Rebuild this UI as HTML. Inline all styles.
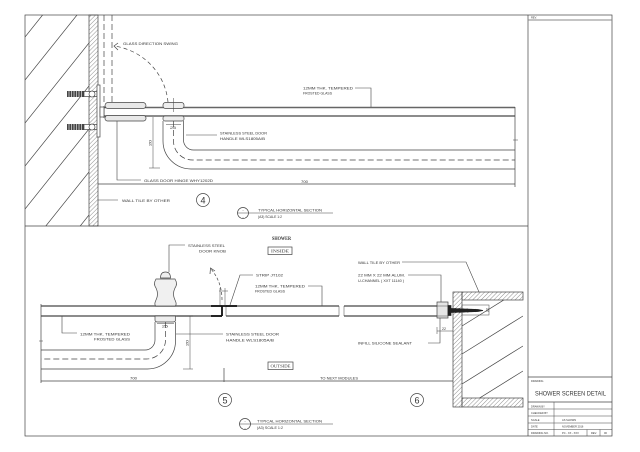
<!DOCTYPE html>
<html><head><meta charset="utf-8"><style>
html,body{margin:0;padding:0;background:#fff;}
svg{display:block;}
text{font-family:"Liberation Sans",sans-serif;fill:#333;}
.s{font-family:"Liberation Serif",serif;}
</style></head><body>
<svg width="640" height="452" viewBox="0 0 640 452" xmlns="http://www.w3.org/2000/svg">
<defs>
<pattern id="h" width="3" height="3" patternUnits="userSpaceOnUse" patternTransform="rotate(45)">
<line x1="0" y1="0" x2="0" y2="3" stroke="#444" stroke-width="0.6"/>
</pattern>
<clipPath id="w1"><rect x="25" y="15" width="64" height="211"/></clipPath>
<clipPath id="w2"><rect x="462" y="300" width="61" height="98"/></clipPath>
</defs>
<rect width="640" height="452" fill="#fff"/>

<g fill="none" stroke="#444" stroke-width="0.7">
<!-- borders -->
<rect x="25" y="15" width="587" height="421"/>
<line x1="528" y1="15" x2="528" y2="436"/>
<line x1="25" y1="226" x2="528" y2="226"/>

<!-- ===== TOP SECTION ===== -->
<g clip-path="url(#w1)">
<line x1="25" y1="37" x2="89" y2="-43"/>
<line x1="25" y1="80" x2="89" y2="0"/>
<line x1="25" y1="123" x2="89" y2="43"/>
<line x1="25" y1="166" x2="89" y2="86"/>
<line x1="25" y1="209" x2="89" y2="129"/>
<line x1="25" y1="252" x2="89" y2="172"/>
<line x1="25" y1="295" x2="89" y2="215"/>
</g>
<rect x="89" y="15" width="9" height="211" fill="url(#h)"/>

<!-- anchors -->
<rect x="84" y="91.5" width="13" height="5" fill="#fff"/>
<circle cx="92" cy="94" r="3" fill="#fff"/>
<rect x="84" y="124.5" width="13" height="5" fill="#fff"/>
<circle cx="92" cy="127" r="3" fill="#fff"/>
<rect x="97" y="85" width="3" height="52" fill="#fff"/>

<!-- swing -->
<line x1="104" y1="15" x2="104" y2="102" stroke-dasharray="6 3"/>
<line x1="112" y1="15" x2="112" y2="102" stroke-dasharray="6 3"/>
<path d="M168,102 C165,72 142,50 114,46" stroke-dasharray="4 3"/>
<path d="M118,43 L114,46 L118,50"/>

<!-- glass top -->
<line x1="104" y1="107.5" x2="515" y2="107.5" stroke="#666" stroke-width="1.6"/>
<line x1="104" y1="116" x2="515" y2="116" stroke="#666" stroke-width="1.6"/>
<line x1="104" y1="106" x2="104" y2="118"/>
<rect x="100" y="107" width="4" height="10" fill="#fff"/>

<!-- hinge -->
<rect x="105" y="102.5" width="41" height="6" rx="3" fill="#e8e8e8"/>
<rect x="105" y="115.5" width="41" height="5.5" rx="2.5" fill="#e8e8e8"/>

<!-- handle mount -->
<rect x="163" y="102.5" width="21" height="6" rx="2.5" fill="#eee"/>
<rect x="163" y="116" width="21" height="5" rx="2" fill="#eee"/>
<line x1="173.5" y1="98" x2="173.5" y2="112" stroke-width="0.5"/>

<!-- handle -->
<path d="M163,121 V141 A28,28 0 0 0 191,169 H515"/>
<path d="M183.5,121 V140 A10,10 0 0 0 193.5,150 H515"/>
<path d="M173.5,121 V141 A19,19 0 0 0 192.5,160 H515" stroke-dasharray="6 3"/>
<line x1="166" y1="124.5" x2="181" y2="124.5" stroke-width="0.5"/>

<!-- dims -->
<line x1="153" y1="117" x2="153" y2="168" stroke-width="0.5"/>
<line x1="149" y1="168" x2="160" y2="168" stroke-width="0.5"/>
<line x1="515" y1="107" x2="515" y2="187"/>
<line x1="513" y1="140" x2="518" y2="140" stroke-width="0.5"/>
<line x1="98" y1="184" x2="515" y2="184"/>

<!-- leaders -->
<polyline points="117,121 117,180 141,180" stroke-width="0.6"/>
<line x1="98" y1="200" x2="118" y2="200" stroke-width="0.6"/>
<polyline points="355,88 371,88 371,107" stroke-width="0.6"/>
<line x1="186" y1="135" x2="217" y2="135" stroke-width="0.6"/>

<circle cx="203" cy="200" r="6.5"/>
<circle cx="243" cy="213" r="5.5"/>
<line x1="237.5" y1="213" x2="333" y2="213" stroke-width="0.6"/>

<!-- ===== BOTTOM SECTION ===== -->
<rect x="268" y="247" width="24" height="7.5"/>
<rect x="268" y="362" width="25" height="7.5"/>

<!-- glass -->
<g stroke="#666" stroke-width="1.6">
<line x1="41" y1="306" x2="222" y2="306"/>
<line x1="41" y1="316" x2="222" y2="316"/>
<line x1="226" y1="306" x2="339" y2="306"/>
<line x1="226" y1="316" x2="339" y2="316"/>
<line x1="344" y1="306" x2="438" y2="306"/>
<line x1="344" y1="316" x2="438" y2="316"/>
</g>
<line x1="41" y1="304" x2="41" y2="383"/>
<line x1="39" y1="341" x2="43" y2="341" stroke-width="0.5"/>
<line x1="226" y1="306" x2="226" y2="316" stroke-width="0.5"/>
<line x1="339" y1="306" x2="339" y2="316" stroke-width="0.5"/>
<line x1="344" y1="306" x2="344" y2="316" stroke-width="0.5"/>

<!-- knob -->
<path d="M160.5,278 Q160.5,272 165.5,272 Q170.5,272 170.5,278 Z" fill="#eee"/>
<path d="M156,279 H175 Q178,284 175,288 Q172,294 175,300 Q177,304 175.5,306 H155.5 Q154,304 156,300 Q159,294 156,288 Q153,284 156,279 Z" fill="#f0f0f0"/>
<path d="M155,316 H175.5 V320 Q175.5,322 173,322 H157.5 Q155,322 155,320 Z" fill="#eee"/>
<polyline points="169,272 169,245 185,245" stroke-width="0.6"/>

<!-- handle bottom -->
<path d="M175.5,322 V341 A28,28 0 0 1 147.5,369 H41"/>
<path d="M155,322 V340 A10,10 0 0 1 145,350 H41"/>
<path d="M165.5,322 V340 A19,19 0 0 1 146.5,359 H41" stroke-dasharray="6 3"/>
<line x1="157" y1="323.5" x2="174" y2="323.5" stroke-width="0.5"/>

<line x1="190" y1="316" x2="190" y2="369" stroke-width="0.5"/>
<line x1="177" y1="316" x2="193" y2="316" stroke-width="0.5"/>
<line x1="183" y1="369" x2="193" y2="369" stroke-width="0.5"/>

<!-- strip -->
<path d="M211,306 H237 M222,306 V316 M211,316 H222" stroke="#111" stroke-width="1.8"/>
<path d="M222,300 Q222,282 211,269" stroke-dasharray="3 2"/>
<path d="M210,274 L210.5,268 L215,271"/>
<line x1="220" y1="288" x2="220" y2="305" stroke-width="0.5"/>
<line x1="225" y1="288" x2="225" y2="305" stroke-width="0.5"/>
<line x1="219" y1="291" x2="228" y2="291" stroke-width="0.5"/>
<polyline points="253,275 240,275 230,305" stroke-width="0.6"/>
<polyline points="308,286 322,286 322,306" stroke-width="0.6"/>
<polyline points="62,316 62,333 77,333" stroke-width="0.6"/>
<line x1="176" y1="334" x2="223" y2="334" stroke-width="0.6"/>

<!-- dim line -->
<line x1="41" y1="381" x2="453" y2="381"/>
<line x1="224" y1="368" x2="224" y2="382"/>

<circle cx="225" cy="400" r="6.5"/>
<circle cx="417" cy="400" r="6.5"/>
<circle cx="245" cy="424" r="5.5"/>
<line x1="239.5" y1="424" x2="333" y2="424" stroke-width="0.6"/>

<!-- right wall -->
<rect x="453" y="292" width="9" height="115" fill="url(#h)"/>
<rect x="462" y="292" width="61" height="8" fill="url(#h)"/>
<rect x="462" y="398" width="61" height="9" fill="url(#h)"/>
<g clip-path="url(#w2)">
<line x1="462" y1="326" x2="523" y2="288"/>
<line x1="462" y1="354" x2="523" y2="316"/>
<line x1="462" y1="384" x2="523" y2="346"/>
<line x1="470" y1="404" x2="523" y2="371"/>
</g>

<!-- channel -->
<rect x="437" y="302" width="11" height="16" fill="#e6e6e6"/>
<line x1="437" y1="306" x2="448" y2="306" stroke-width="0.5"/>
<line x1="437" y1="316" x2="448" y2="316" stroke-width="0.5"/>
<rect x="462" y="305" width="27" height="10" stroke-width="0.5"/>
<path d="M451,308.5 L478,309.5 L483,310.5 L478,311.5 L451,312.5 Z" fill="#222" stroke="#222"/>
<rect x="448" y="305.5" width="3" height="10" fill="#222" stroke="#222"/>
<path d="M455,308 L456,313 M459,308 L460,313 M463,308.5 L464,312.5 M467,308.5 L468,312.5 M471,309 L472,312 M475,309 L476,312" stroke="#222" stroke-width="0.8"/>

<polyline points="402,262 466,262 479,292" stroke-width="0.6"/>
<polyline points="408,275 441,275 441,302" stroke-width="0.6"/>
<polyline points="428,343 440,343 440,318" stroke-width="0.6"/>
<line x1="437" y1="331" x2="453" y2="331" stroke-width="0.5"/>
<line x1="437" y1="327" x2="437" y2="334" stroke-width="0.5"/>

<!-- title block -->
<line x1="528" y1="20" x2="612" y2="20" stroke="#888" stroke-width="1"/>
<line x1="528" y1="377" x2="612" y2="377"/>
<line x1="528" y1="402" x2="612" y2="402"/>
<line x1="528" y1="409" x2="612" y2="409" stroke-width="0.5"/>
<line x1="528" y1="416" x2="612" y2="416" stroke-width="0.5"/>
<line x1="528" y1="423" x2="612" y2="423" stroke-width="0.5"/>
<line x1="528" y1="429.5" x2="612" y2="429.5" stroke-width="0.5"/>
<line x1="554" y1="402" x2="554" y2="436" stroke-width="0.5"/>
<line x1="587" y1="429.5" x2="587" y2="436" stroke-width="0.5"/>
<line x1="600" y1="429.5" x2="600" y2="436" stroke-width="0.5"/>
</g>

<!-- anchors dark bodies -->
<g fill="#444">
<rect x="67" y="91" width="17" height="6"/>
<rect x="67" y="124" width="17" height="6"/>
</g>
<g stroke="#fff" stroke-width="0.6">
<path d="M69,91v6M71.5,91v6M74,91v6M76.5,91v6M79,91v6M81.5,91v6"/>
<path d="M69,124v6M71.5,124v6M74,124v6M76.5,124v6M79,124v6M81.5,124v6"/>
</g>

<!-- TEXT top -->
<g font-size="4">
<text x="123" y="45" textLength="55" lengthAdjust="spacingAndGlyphs">GLASS DIRECTION SWING</text>
<text x="144" y="182" textLength="69" lengthAdjust="spacingAndGlyphs">GLASS DOOR HINGE WHY1202D</text>
<text x="122" y="202" textLength="48" lengthAdjust="spacingAndGlyphs">WALL TILE BY OTHER</text>
<text x="303" y="89.5" textLength="50" lengthAdjust="spacingAndGlyphs">12MM THK. TEMPERED</text>
<text x="303" y="94.5" textLength="29" lengthAdjust="spacingAndGlyphs">FROSTED GLASS</text>
<text x="220" y="134.5" textLength="47" lengthAdjust="spacingAndGlyphs">STAINLESS STEEL DOOR</text>
<text x="220" y="140" textLength="45" lengthAdjust="spacingAndGlyphs">HANDLE WLS1805A/B</text>
<text x="301" y="183" textLength="7" lengthAdjust="spacingAndGlyphs">700</text>
<text x="170" y="129" textLength="6" lengthAdjust="spacingAndGlyphs">25</text>
<text x="0" y="0" transform="translate(151.5,146) rotate(-90)" textLength="6" lengthAdjust="spacingAndGlyphs">20</text>
<text x="258" y="211.5" textLength="64" lengthAdjust="spacingAndGlyphs">TYPICAL HORIZONTAL SECTION</text>
<text x="258" y="218" textLength="24" lengthAdjust="spacingAndGlyphs">(A3) SCALE 1:2</text>
</g>
<text x="203" y="203.5" font-size="9" text-anchor="middle">4</text>
<text x="243" y="211" font-size="4" text-anchor="middle">-</text>
<text x="243" y="218" font-size="4" text-anchor="middle">-</text>

<!-- TEXT bottom -->
<text class="s" x="272" y="240" font-size="5" font-weight="bold" textLength="19" lengthAdjust="spacingAndGlyphs">SHOWER</text>
<text class="s" x="280" y="252.5" font-size="4.5" text-anchor="middle" textLength="18" lengthAdjust="spacingAndGlyphs">INSIDE</text>
<text class="s" x="280.5" y="367.5" font-size="4.5" text-anchor="middle" textLength="20" lengthAdjust="spacingAndGlyphs">OUTSIDE</text>
<g font-size="4">
<text x="188" y="247" textLength="37" lengthAdjust="spacingAndGlyphs">STAINLESS STEEL</text>
<text x="199" y="252.5" textLength="27" lengthAdjust="spacingAndGlyphs">DOOR KNOB</text>
<text x="256" y="276.5" textLength="27" lengthAdjust="spacingAndGlyphs">STRIP JT102</text>
<text x="255" y="287.5" textLength="50" lengthAdjust="spacingAndGlyphs">12MM THK. TEMPERED</text>
<text x="255" y="292.5" textLength="30" lengthAdjust="spacingAndGlyphs">FROSTED GLASS</text>
<text x="80" y="335.5" textLength="50" lengthAdjust="spacingAndGlyphs">12MM THK. TEMPERED</text>
<text x="94" y="340.5" textLength="36" lengthAdjust="spacingAndGlyphs">FROSTED GLASS</text>
<text x="226" y="335.5" textLength="53" lengthAdjust="spacingAndGlyphs">STAINLESS STEEL DOOR</text>
<text x="226" y="341.5" textLength="48" lengthAdjust="spacingAndGlyphs">HANDLE WLS1805A/B</text>
<text x="162" y="327.5" textLength="6" lengthAdjust="spacingAndGlyphs">25</text>
<text x="0" y="0" transform="translate(188.5,346) rotate(-90)" textLength="6" lengthAdjust="spacingAndGlyphs">20</text>
<text x="130" y="379.5" textLength="7" lengthAdjust="spacingAndGlyphs">700</text>
<text x="320" y="379.5" textLength="38" lengthAdjust="spacingAndGlyphs">TO NEXT MODULES</text>
<text x="257" y="422.5" textLength="65" lengthAdjust="spacingAndGlyphs">TYPICAL HORIZONTAL SECTION</text>
<text x="257" y="429" textLength="26" lengthAdjust="spacingAndGlyphs">(A3) SCALE 1:2</text>
<text x="358" y="264" textLength="42" lengthAdjust="spacingAndGlyphs">WALL TILE BY OTHER</text>
<text x="358" y="276.5" textLength="47" lengthAdjust="spacingAndGlyphs">22 MM X 22 MM ALUM.</text>
<text x="358" y="282" textLength="46" lengthAdjust="spacingAndGlyphs">U-CHANNEL ( XXT 11140 )</text>
<text x="358" y="344.5" textLength="54" lengthAdjust="spacingAndGlyphs">INFILL SILICONE SEALANT</text>
<text x="442" y="330" font-size="3.5">22</text>
<text x="0" y="0" transform="translate(488.5,312) rotate(-90)" font-size="3.5">22</text>
</g>
<text x="225" y="403.5" font-size="9" text-anchor="middle">5</text>
<text x="417" y="403.5" font-size="9" text-anchor="middle">6</text>
<text x="245" y="422" font-size="4" text-anchor="middle">-</text>
<text x="245" y="429" font-size="4" text-anchor="middle">-</text>

<!-- title block text -->
<g font-size="2.6">
<text x="531" y="18.5">REV.</text>
<text x="531" y="382">DRAWING</text>
<text x="531" y="407.5">DRAWN BY</text>
<text x="531" y="414">CHECKED BY</text>
<text x="531" y="421">SCALE</text>
<text x="531" y="427.5">DATE</text>
<text x="531" y="434">DRAWING NO.</text>
<text x="562" y="421">AS SHOWN</text>
<text x="562" y="427.5">NOVEMBER 2016</text>
<text x="562" y="434">PC - XX - XXX</text>
<text x="591" y="434">REV.</text>
<text x="604" y="434">00</text>
</g>
<text x="535" y="395.5" font-size="6.5" textLength="71" lengthAdjust="spacingAndGlyphs">SHOWER SCREEN DETAIL</text>
</svg>
</body></html>
